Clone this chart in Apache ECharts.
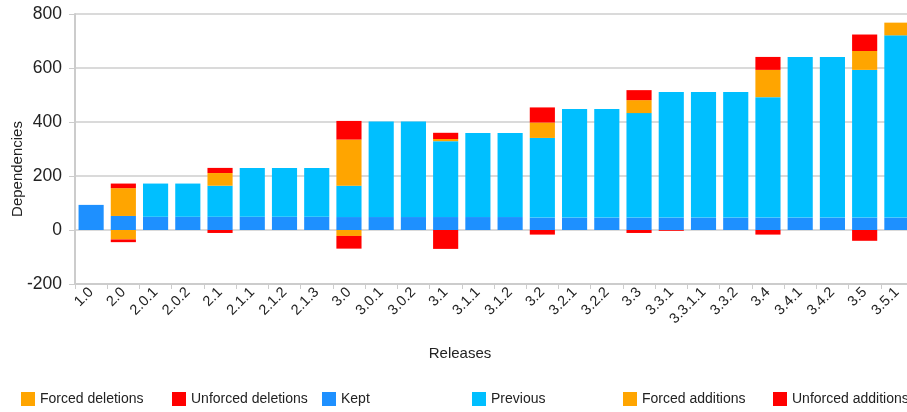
<!DOCTYPE html>
<html>
<head>
<meta charset="utf-8">
<script src="https://cdn.jsdelivr.net/npm/echarts@6/dist/echarts.min.js"></script>
<style>
html,body{margin:0;padding:0;background:#fff;}
#chart{width:907px;height:412px;}
</style>
</head>
<body>
<div id="chart"></div>
<script>
const categories = ['1.0','2.0','2.0.1','2.0.2','2.1','2.1.1','2.1.2','2.1.3','3.0','3.0.1','3.0.2','3.1','3.1.1','3.1.2','3.2','3.2.1','3.2.2','3.3','3.3.1','3.3.1.1','3.3.2','3.4','3.4.1','3.4.2','3.5','3.5.1'];
const forcedDeletions   = [0,-35,0,0,0,0,0,0,-22,0,0,0,0,0,0,0,0,0,0,0,0,0,0,0,0,0];
const unforcedDeletions = [0,-10,0,0,-11,0,0,0,-47,0,0,-70,0,0,-17,0,0,-11,-3,0,0,-17,0,0,-40,0];
const kept              = [93,52,49,49,49,49,49,49,48,48,48,48,48,48,46,46,46,46,46,46,46,46,46,46,46,46];
const previous          = [0,0,123,123,115,181,181,181,116,354,354,281,311,311,295,402,402,387,465,465,465,446,595,595,547,675];
const forcedAdditions   = [0,103,0,0,47,0,0,0,171,0,0,8,0,0,57,0,0,48,0,0,0,101,0,0,70,47];
const unforcedAdditions = [0,17,0,0,19,0,0,0,69,0,0,23,0,0,56,0,0,37,0,0,0,48,0,0,61,0];
const yTicks = {min:-200, max:800, interval:200};

const FONT = 'Liberation Sans, Arial, sans-serif';
const seriesDefs = [
  ['Forced deletions', forcedDeletions, '#FFA500'],
  ['Unforced deletions', unforcedDeletions, '#FF0000'],
  ['Kept', kept, '#1E90FF'],
  ['Previous', previous, '#00BFFF'],
  ['Forced additions', forcedAdditions, '#FFA500'],
  ['Unforced additions', unforcedAdditions, '#FF0000']
];
const legendLeft = [16, 167, 317, 467, 618, 768];

const chart = echarts.init(document.getElementById('chart'));
chart.setOption({
  animation: false,
  textStyle: {fontFamily: FONT},
  grid: {left: 75, top: 14, width: 838, bottom: 128, containLabel: false, outerBoundsMode: 'none'},
  legend: seriesDefs.map((s, i) => ({
    data: [s[0]], left: legendLeft[i], top: 387, icon: 'rect',
    itemWidth: 14, itemHeight: 14, itemGap: 5,
    textStyle: {fontFamily: FONT, fontSize: 14, color: '#222', padding: [0,0,0,0]},
    selectedMode: false
  })),
  xAxis: {
    type: 'category', data: categories,
    name: 'Releases', nameLocation: 'middle', nameGap: 62, nameMoveOverlap: false,
    nameTextStyle: {fontFamily: FONT, fontSize: 15, color: '#222', padding: [0, 68, 0, 0]},
    axisLine: {onZero: false, lineStyle: {color: '#cccccc', width: 2}},
    axisTick: {show: true, length: 5, lineStyle: {color: '#cccccc'}},
    axisLabel: {rotate: 45, fontFamily: FONT, fontSize: 14.5, color: '#222', margin: 6, interval: 0}
  },
  yAxis: {
    type: 'value', min: yTicks.min, max: yTicks.max, interval: yTicks.interval,
    name: 'Dependencies', nameLocation: 'middle', nameGap: 50, nameMoveOverlap: false,
    nameTextStyle: {fontFamily: FONT, fontSize: 15, color: '#222', padding: [0, 40, 0, 0]},
    axisLine: {show: true, lineStyle: {color: '#cccccc', width: 2}},
    axisTick: {show: true, length: 6, lineStyle: {color: '#cccccc'}},
    axisLabel: {fontFamily: FONT, fontSize: 17.5, color: '#222', margin: 13},
    splitLine: {lineStyle: {color: '#dadada', width: 2}}
  },
  series: seriesDefs.map(s => ({
    name: s[0], type: 'bar', stack: 'all', data: s[1],
    itemStyle: {color: s[2]}, barCategoryGap: '22%'
  }))
});
</script>
</body>
</html>
